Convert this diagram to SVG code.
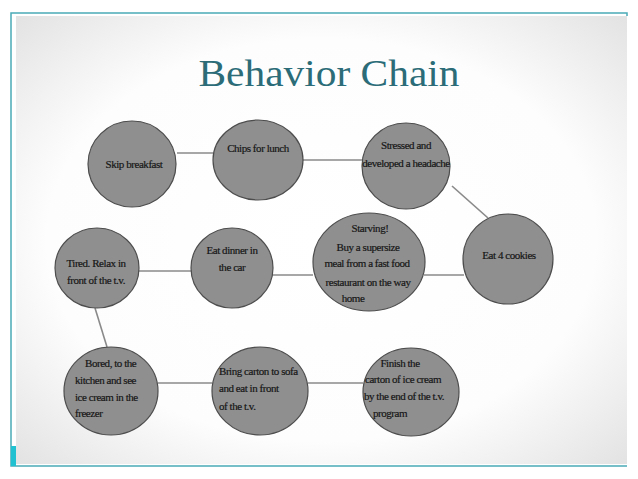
<svg xmlns="http://www.w3.org/2000/svg" width="638" height="479" viewBox="0 0 638 479">
  <defs>
    <radialGradient id="panel" cx="50%" cy="50%" r="75%">
      <stop offset="0" stop-color="#ffffff"/>
      <stop offset="0.6" stop-color="#fdfdfd"/>
      <stop offset="1" stop-color="#dedede"/>
    </radialGradient>
    <style>
      .node { fill: #8f8f8f; stroke: #4d4d4d; stroke-width: 1.2; }
      .lbl { font-family: "Liberation Serif", "Times New Roman", serif; font-size: 11px; fill: #111111; stroke: #222222; stroke-width: 0.2px; letter-spacing: -0.45px; }
      .c { text-anchor: middle; }
      .edge { stroke: #8a8a8a; stroke-width: 1.6; fill: none; }
      .frame { stroke: #4aaab6; stroke-width: 1.5; fill: none; }
    </style>
  </defs>
  <rect x="0" y="0" width="638" height="479" fill="#ffffff"/>
  <rect x="16" y="16" width="611" height="448" fill="url(#panel)"/>
  <g id="frame">
    <path class="frame" d="M627,16 V13 H11 V466 H627"/>
    <rect x="11" y="446" width="5" height="20" fill="#22c1d1"/>
  </g>
  <text x="329" y="86" text-anchor="middle" font-family="'Liberation Serif', 'DejaVu Serif', serif" font-size="37" fill="#2b6c78" textLength="261" lengthAdjust="spacingAndGlyphs">Behavior Chain</text>

  <g id="connectors">
    <line class="edge" x1="177" y1="153" x2="213" y2="153"/>
    <line class="edge" x1="302" y1="160" x2="363" y2="160"/>
    <line class="edge" x1="452" y1="186" x2="488" y2="218"/>
    <line class="edge" x1="424" y1="275" x2="464" y2="275"/>
    <line class="edge" x1="273" y1="275" x2="313" y2="275"/>
    <line class="edge" x1="138" y1="271" x2="192" y2="271"/>
    <line class="edge" x1="95" y1="308" x2="107" y2="347"/>
    <line class="edge" x1="158" y1="383" x2="212" y2="383"/>
    <line class="edge" x1="308" y1="383" x2="363" y2="383"/>
  </g>

  <g id="n1">
    <ellipse class="node" cx="132" cy="164" rx="44" ry="43"/>
    <text class="lbl c" x="134" y="168">Skip breakfast</text>
  </g>
  <g id="n2">
    <ellipse class="node" cx="258" cy="160" rx="45" ry="40"/>
    <text class="lbl c" x="258" y="152">Chips for lunch</text>
  </g>
  <g id="n3">
    <ellipse class="node" cx="406" cy="166" rx="44" ry="43"/>
    <text class="lbl c" x="406" y="149">Stressed and</text>
    <text class="lbl c" x="406" y="167">developed a headache</text>
  </g>
  <g id="n4">
    <ellipse class="node" cx="508" cy="259" rx="45" ry="45"/>
    <text class="lbl c" x="509" y="259">Eat 4 cookies</text>
  </g>
  <g id="n5">
    <ellipse class="node" cx="369" cy="262" rx="56" ry="49"/>
    <text class="lbl c" x="370" y="232">Starving!</text>
    <text class="lbl c" x="368" y="251">Buy a supersize</text>
    <text class="lbl c" x="367" y="267">meal from a fast food</text>
    <text class="lbl c" x="368" y="286">restaurant on the way</text>
    <text class="lbl c" x="353" y="302">home</text>
  </g>
  <g id="n6">
    <ellipse class="node" cx="232" cy="268" rx="41" ry="40"/>
    <text class="lbl c" x="232" y="254">Eat dinner in</text>
    <text class="lbl c" x="232" y="271">the car</text>
  </g>
  <g id="n7">
    <ellipse class="node" cx="97" cy="268" rx="42" ry="40"/>
    <text class="lbl c" x="96" y="267">Tired. Relax in</text>
    <text class="lbl c" x="96" y="284">front of the t.v.</text>
  </g>
  <g id="n8">
    <ellipse class="node" cx="111" cy="391" rx="47" ry="44"/>
    <text class="lbl" x="85" y="367">Bored, to the</text>
    <text class="lbl" x="75" y="384">kitchen and see</text>
    <text class="lbl" x="75" y="401">ice cream in the</text>
    <text class="lbl" x="75" y="417">freezer</text>
  </g>
  <g id="n9">
    <ellipse class="node" cx="260" cy="391" rx="48" ry="44"/>
    <text class="lbl" x="219" y="375">Bring carton to sofa</text>
    <text class="lbl" x="219" y="392">and eat in front</text>
    <text class="lbl" x="219" y="410">of the t.v.</text>
  </g>
  <g id="n10">
    <ellipse class="node" cx="411" cy="392" rx="48" ry="44"/>
    <text class="lbl c" x="400" y="367">Finish the</text>
    <text class="lbl c" x="403" y="383">carton of ice cream</text>
    <text class="lbl c" x="404" y="400">by the end of the t.v.</text>
    <text class="lbl c" x="390" y="417">program</text>
  </g>
</svg>
